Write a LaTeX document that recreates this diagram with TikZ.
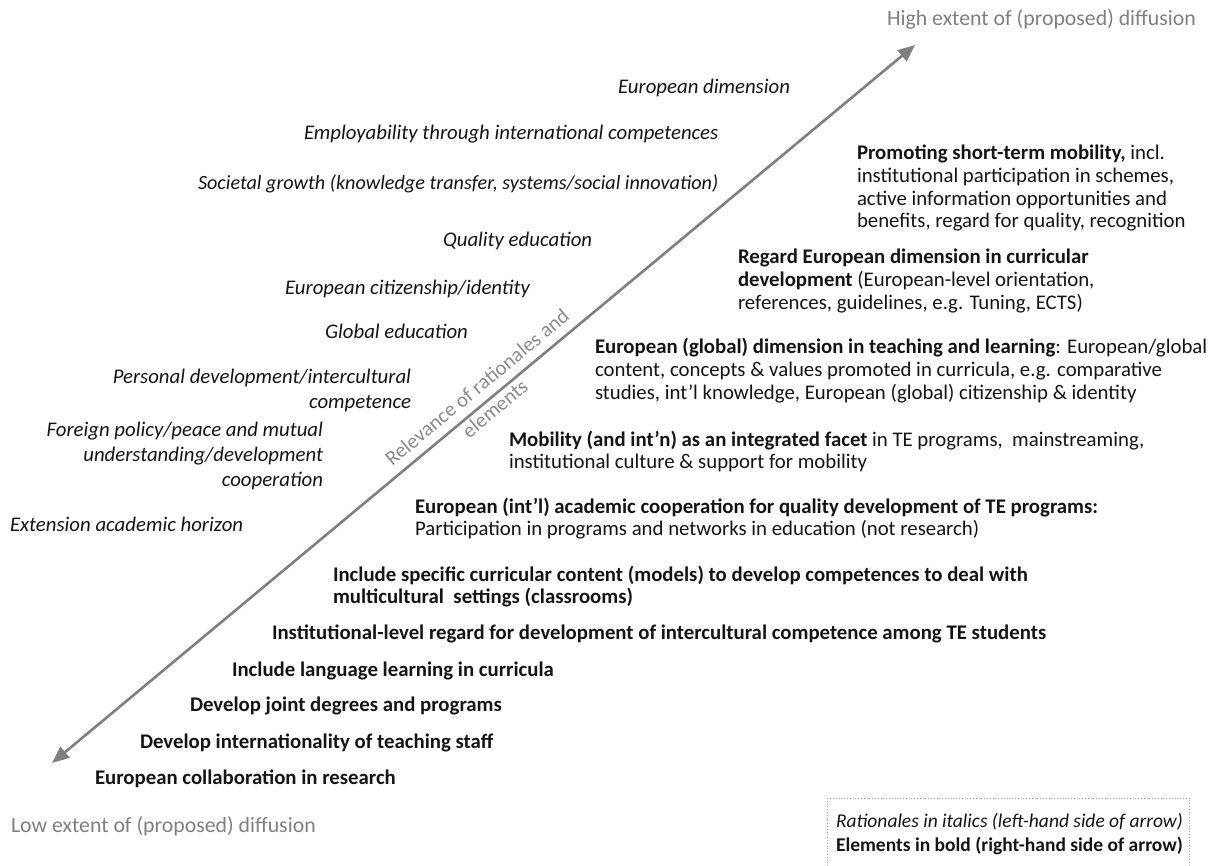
\documentclass[tikz,border=0pt]{standalone}
\usepackage{fontspec}
\setmainfont{Carlito}
\usetikzlibrary{arrows.meta}

\definecolor{axisgray}{HTML}{7F7F7F}
\definecolor{labelgray}{HTML}{8A8A8A}
\definecolor{ink}{HTML}{141414}
\definecolor{framegray}{HTML}{9A9A9A}

% stacked lines whose baseline is the first line's baseline
\newcommand\rowsl[1]{\begin{tabular}[t]{@{}l@{}}#1\end{tabular}}
\newcommand\rowsr[1]{\begin{tabular}[t]{@{}r@{}}#1\end{tabular}}
\newcommand\rowsc[1]{\begin{tabular}[t]{@{}c@{}}#1\end{tabular}}

\tikzset{
  txt/.style={inner sep=0pt, outer sep=0pt, text=ink,
              font=\fontsize{20.8}{22.6}\selectfont},
  rationale/.style={txt, font=\fontsize{20.8}{25}\selectfont\itshape},
  element/.style={txt, anchor=base west},
  boldelement/.style={element, font=\fontsize{20.8}{22.6}\selectfont\bfseries},
  extent/.style={txt, text=axisgray, anchor=base west,
                 font=\fontsize{21.8}{24}\selectfont},
  axis/.style={draw=axisgray, line width=2.6pt,
               {Triangle[length=17pt,width=14pt]}-{Triangle[length=17pt,width=14pt]}},
  axislabel/.style={inner sep=0pt, outer sep=0pt, text=labelgray,
                    font=\fontsize{20.8}{28}\selectfont},
  legendframe/.style={draw=framegray, line width=0.8pt, dotted}
}

\begin{document}
\begin{tikzpicture}[x=1pt,y=-1pt]
\useasboundingbox (0,0) rectangle (1223,866);
\clip (0,0) rectangle (1223,866);

% diffusion axis, its label split by the line
\coordinate (lo) at (52,763);
\coordinate (hi) at (915,45);
\draw[axis] (lo) -- (hi)
  node[axislabel, pos=0.505, sloped, anchor=base] (axlbl)
  {\raisebox{10pt}{\rowsc{Relevance of rationales and\\elements}}};

\node[extent] (high) at (887,26) {High extent of (proposed) diffusion};
\node[extent] (low) at (11,832) {Low extent of (proposed) diffusion};

% rationales (left of the axis)
\node[rationale, anchor=base west] (r1) at (618,94) {European dimension};
\node[rationale, anchor=base west] (r2) at (304,140) {Employability through international competences};
\node[rationale, anchor=base west, font=\fontsize{20.2}{25}\selectfont\itshape] (r3) at (198,190)
  {Societal growth (knowledge transfer, systems/social innovation)};
\node[rationale, anchor=base west] (r4) at (443,247) {Quality education};
\node[rationale, anchor=base west] (r5) at (285,295) {European citizenship/identity};
\node[rationale, anchor=base west] (r6) at (325,338) {Global education};
\node[rationale, anchor=base east] (r7) at (411,383)
  {\rowsr{Personal development/intercultural\\competence}};
\node[rationale, anchor=base east] (r8) at (323,436)
  {\rowsr{Foreign policy/peace and mutual\\understanding/development\\cooperation}};
\node[rationale, anchor=base west] (r9) at (10,531) {Extension academic horizon};

% elements (right of the axis)
\node[element] (e1) at (857,160)
  {\rowsl{\textbf{Promoting short-term mobility,} incl.\\institutional participation in schemes,\\active information opportunities and\\benefits, regard for quality, recognition}};
\node[element] (e2) at (738,264)
  {\rowsl{\textbf{Regard European dimension in curricular}\\\textbf{development} (European-level orientation,\\references, guidelines, e.g. Tuning, ECTS)}};
\node[element] (e3) at (595,354)
  {\rowsl{\textbf{European (global) dimension in teaching and learning}: European/global\\content, concepts \& values promoted in curricula, e.g. comparative\\studies, int’l knowledge, European (global) citizenship \& identity}};
\node[element] (e4) at (509,446)
  {\rowsl{\textbf{Mobility (and int’n) as an integrated facet} in TE programs,\ \ mainstreaming,\\institutional culture \& support for mobility}};
\node[element] (e5) at (415,513)
  {\rowsl{\textbf{European (int’l) academic cooperation for quality development of TE programs:}\\Participation in programs and networks in education (not research)}};
\node[boldelement] (e6) at (333,581)
  {\rowsl{Include specific curricular content (models) to develop competences to deal with\\multicultural\ \ settings (classrooms)}};
\node[boldelement] (e7) at (272,639)
  {Institutional-level regard for development of intercultural competence among TE students};
\node[boldelement] (e8) at (232,676) {Include language learning in curricula};
\node[boldelement] (e9) at (190,711) {Develop joint degrees and programs};
\node[boldelement] (e10) at (140,748) {Develop internationality of teaching staff};
\node[boldelement] (e11) at (95,784) {European collaboration in research};

% legend
\draw[legendframe] (827,798) rectangle (1189,872);
\node[element, font=\fontsize{19.5}{24.5}\selectfont] (legend) at (836,827)
  {\rowsl{\textit{Rationales in italics (left-hand side of arrow)}\\\textbf{Elements in bold (right-hand side of arrow)}}};
\end{tikzpicture}
\end{document}
